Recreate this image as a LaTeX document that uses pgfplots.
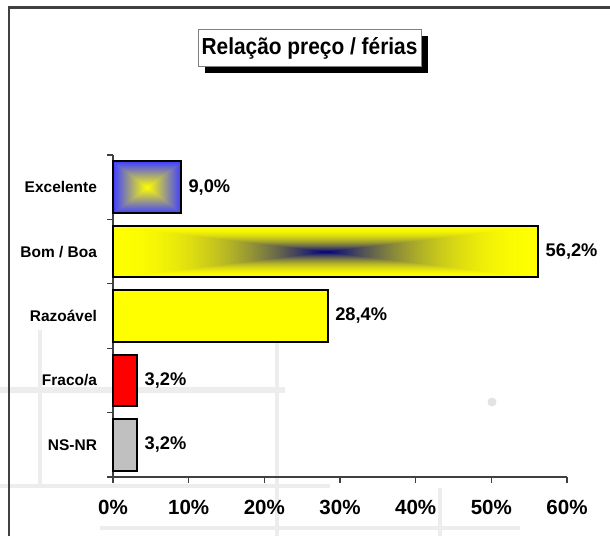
\documentclass[border=0pt]{standalone}
\usepackage{pgfplots}
\pgfplotsset{compat=1.18}
\usepackage{fontspec}
\setmainfont{Liberation Sans}
\newfontfamily\titlefont[FakeStretch=0.9]{Liberation Sans}
\definecolor{axgray}{HTML}{404040}
\definecolor{wm}{HTML}{EDEDED}
% rectangular "from centre" gradient: yellow centre, blue edge
\pgfdeclarefunctionalshading{rectpyr}{\pgfpoint{-50bp}{-50bp}}{\pgfpoint{50bp}{50bp}}{}{
  abs exch abs 2 copy lt {exch} if pop 25 div dup 1 gt {pop 1} if
  dup 0.75 mul 1 exch sub dup 3 -1 roll
}
% rectangular "from centre" gradient: navy centre, yellow edge
\pgfdeclarefunctionalshading{navypyr}{\pgfpoint{-50bp}{-50bp}}{\pgfpoint{50bp}{50bp}}{}{
  abs exch abs 2 copy lt {exch} if pop 25 div dup 1 gt {pop 1} if
  dup 2 exch sub mul
  dup dup 0.5 mul 0.5 exch sub
}
\begin{document}
\begin{tikzpicture}
\path[use as bounding box] (0,0) rectangle (457.5pt,402pt);
\begin{scope}[x=0.75pt,y=-0.75pt,yshift=402pt]
  % faint background watermark
  \draw[wm,line width=4pt] (0,390) -- (285,390);
  \draw[wm,line width=3.5pt] (0,486) -- (330,486);
  \draw[wm,line width=3.5pt] (100,528) -- (520,528);
  \draw[wm,line width=3.5pt] (40,330) -- (40,488);
  \draw[wm,line width=3.5pt] (277,292) -- (277,536);
  \draw[wm,line width=3.5pt] (440,488) -- (440,536);
  \fill[gray!22] (492,402) circle (4.5);
  % outer frame
  \draw[axgray,line width=1.6pt] (9,536) -- (9,7.5) -- (612,7.5);
  % title box
  \fill[black] (205,36) rectangle (428,73);
  \filldraw[fill=white,draw=gray,line width=0.6pt] (198,29) rectangle (421,66);
  \node[font=\titlefont\fontsize{17.4pt}{20pt}\bfseries] at (309.5,48) {Relação preço / férias};
\end{scope}
\begin{axis}[
  at={(84.75pt,44.25pt)}, anchor=south west,
  scale only axis, width=340.5pt, height=241.5pt,
  xbar, bar width=0.8, bar shift=0pt,
  xmin=0, xmax=60, ymin=-0.5, ymax=4.5,
  axis x line*=bottom, axis y line*=left,
  axis line style={axgray,line width=0.8pt},
  tick style={axgray,line width=0.8pt},
  tick align=outside,
  major tick length=4.5pt, minor tick length=3.75pt,
  xtick={0,10,...,60},
  xticklabels={0\%,10\%,20\%,30\%,40\%,50\%,60\%},
  xticklabel style={font=\fontsize{15.4pt}{18pt}\bfseries, yshift=-9pt},
  ytick={-0.5,0.5,...,4.5},
  yticklabels={},
  extra y ticks={0,1,2,3,4},
  extra y tick labels={NS-NR,Fraco/a,Razoável,Bom / Boa,Excelente},
  extra y tick style={tick style={draw=none},
    yticklabel style={font=\fontsize{11.6pt}{14pt}\bfseries, xshift=-4pt}},
  point meta=x,
  nodes near coords={\pgfmathprintnumber[fixed,fixed zerofill,precision=1,use comma,assume math mode=true]{\pgfplotspointmeta}\%},
  nodes near coords align=horizontal,
  every node near coord/.append style={font=\fontsize{13.7pt}{16pt}\bfseries, black, xshift=1.5pt},
  clip=false,
]
\addplot[bar shift=0pt, draw=black, line width=1.5pt, shading=rectpyr] coordinates {(9.0,4)};
\addplot[bar shift=0pt, draw=black, line width=1.5pt, shading=navypyr] coordinates {(56.2,3)};
\addplot[bar shift=0pt, draw=black, line width=1.5pt, fill={rgb,255:red,255;green,255;blue,0}] coordinates {(28.4,2)};
\addplot[bar shift=0pt, draw=black, line width=1.5pt, fill=red] coordinates {(3.2,1)};
\addplot[bar shift=0pt, draw=black, line width=1.5pt, fill={rgb,255:red,192;green,192;blue,192}] coordinates {(3.2,0)};
\end{axis}
\end{tikzpicture}
\end{document}
